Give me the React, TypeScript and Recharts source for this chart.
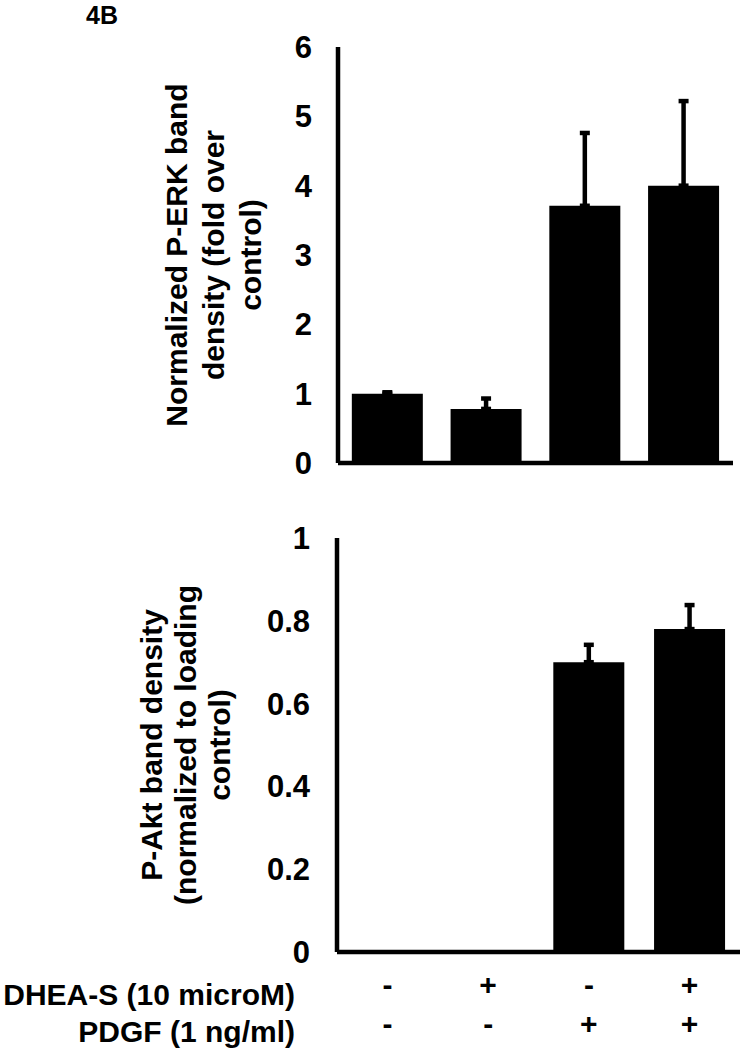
import React from "react"
import { BarChart, Bar, XAxis, YAxis, ErrorBar, Label } from "recharts"

// treatment groups (DHEA-S / PDGF)
const groups = ["ctrl", "dhea", "pdgf", "dhea+pdgf"]
const dheaSigns = ["-", "+", "-", "+"]
const pdgfSigns = ["-", "-", "+", "+"]
const rowLabels = ["DHEA-S (10 microM)", "PDGF (1 ng/ml)"]

// P-ERK, fold over control
const erkValues = [1.0, 0.78, 3.71, 4.0]
const erkErrors = [0.02, 0.15, 1.05, 1.22]
const erkTicks = [0, 1, 2, 3, 4, 5, 6]

// P-Akt, normalized to loading control
const aktValues = [0, 0, 0.7, 0.78]
const aktErrors = [0, 0, 0.042, 0.058]
const aktTicks = [0, 0.2, 0.4, 0.6, 0.8, 1]

const erkData = groups.map((g, i) => ({ group: g, value: erkValues[i], err: [0, erkErrors[i]] }))
const aktData = groups.map((g, i) => ({ group: g, value: aktValues[i], err: [0, aktErrors[i]] }))

const FONT = "'Liberation Sans', Arial, sans-serif"
const tickStyle = { fill: "#000", fontSize: 31, fontWeight: "bold" as const }

function RotatedLabel({ viewBox, lines, dx, gap }: any) {
  const cx = viewBox.x + dx
  const cy = viewBox.y + viewBox.height / 2
  return (
    <text
      transform={`rotate(-90, ${cx}, ${cy})`}
      x={cx}
      y={cy}
      textAnchor="middle"
      fill="#000"
      fontSize={30}
      fontWeight="bold"
    >
      {lines.map((l: string, i: number) => (
        <tspan key={i} x={cx} dy={i === 0 ? 0 : gap}>
          {l}
        </tspan>
      ))}
    </text>
  )
}

function SignTick({ x, y, payload }: any) {
  const i = payload.index
  return (
    <g>
      <text x={x} y={y + 43} textAnchor="middle" fill="#000" fontSize={30} fontWeight="bold">
        {dheaSigns[i]}
      </text>
      <text x={x} y={y + 82} textAnchor="middle" fill="#000" fontSize={30} fontWeight="bold">
        {pdgfSigns[i]}
      </text>
    </g>
  )
}

export default function App() {
  return (
    <div style={{ position: "absolute", left: 0, top: 0, width: 740, height: 1050, background: "#fff", fontFamily: FONT }}>
      {/* P-ERK */}
      <div style={{ position: "absolute", left: 0, top: 0 }}>
        <BarChart width={740} height={480} data={erkData} margin={{ top: 47, right: 7, bottom: 0, left: 0 }} barCategoryGap="14%">
          <XAxis dataKey="group" height={17} tick={false} tickLine={false} axisLine={{ stroke: "#000", strokeWidth: 4.5 }} />
          <YAxis
            width={338}
            domain={[0, 6]}
            ticks={erkTicks}
            interval={0}
            tickLine={false}
            tickSize={0}
            tickMargin={26}
            tick={tickStyle}
            axisLine={{ stroke: "#000", strokeWidth: 4.5 }}
          >
            <Label
              content={(p: any) => (
                <RotatedLabel {...p} dx={187} gap={37} lines={["Normalized P-ERK band", "density (fold over", "control)"]} />
              )}
            />
          </YAxis>
          <Bar dataKey="value" fill="#000" isAnimationActive={false}>
            <ErrorBar dataKey="err" direction="y" width={5} stroke="#000" strokeWidth={4.5} />
          </Bar>
        </BarChart>
      </div>

      {/* P-Akt */}
      <div style={{ position: "absolute", left: 0, top: 480 }}>
        <BarChart width={740} height={570} data={aktData} margin={{ top: 58, right: 0, bottom: 0, left: 0 }} barCategoryGap="14.7%">
          <XAxis
            dataKey="group"
            height={98}
            interval={0}
            tickLine={false}
            tickSize={0}
            tickMargin={0}
            tick={<SignTick />}
            axisLine={{ stroke: "#000", strokeWidth: 4.5 }}
          />
          <YAxis
            width={337}
            domain={[0, 1]}
            ticks={aktTicks}
            interval={0}
            tickLine={false}
            tickSize={0}
            tickMargin={27}
            tick={tickStyle}
            axisLine={{ stroke: "#000", strokeWidth: 4.5 }}
          >
            <Label
              content={(p: any) => (
                <RotatedLabel {...p} dx={162} gap={34} lines={["P-Akt band density", "(normalized to loading", "control)"]} />
              )}
            />
          </YAxis>
          <Bar dataKey="value" fill="#000" isAnimationActive={false}>
            <ErrorBar dataKey="err" direction="y" width={5} stroke="#000" strokeWidth={4.5} />
          </Bar>
        </BarChart>
      </div>

      {/* panel letter and treatment row labels */}
      <svg width={740} height={1050} style={{ position: "absolute", left: 0, top: 0, pointerEvents: "none" }}>
        <text x={86} y={24} fontSize={25} fontWeight="bold" fill="#000">
          4B
        </text>
        {rowLabels.map((l, i) => (
          <text key={l} x={295} y={1005 + i * 37} textAnchor="end" fontSize={30} fontWeight="bold" fill="#000">
            {l}
          </text>
        ))}
      </svg>
    </div>
  )
}
